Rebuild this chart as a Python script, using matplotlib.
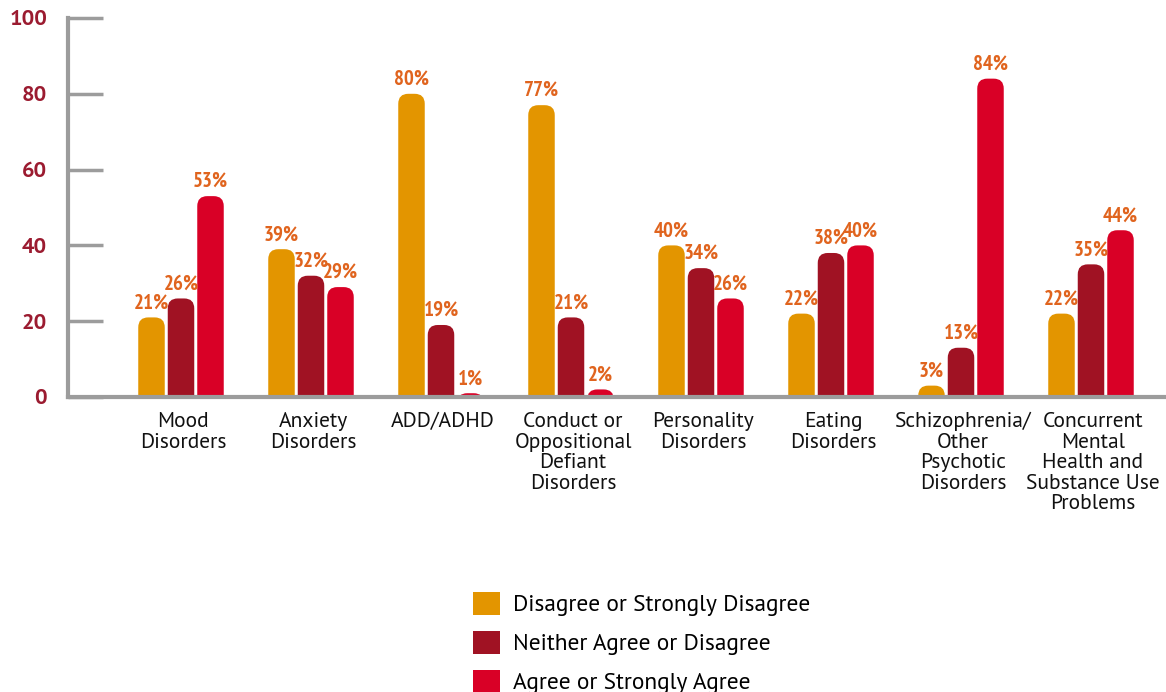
import matplotlib
matplotlib.use("Agg")
import matplotlib.pyplot as plt
from matplotlib.patches import FancyBboxPatch, Patch

categories = [
    "Mood\nDisorders",
    "Anxiety\nDisorders",
    "ADD/ADHD",
    "Conduct or\nOppositional\nDefiant\nDisorders",
    "Personality\nDisorders",
    "Eating\nDisorders",
    "Schizophrenia/\nOther\nPsychotic\nDisorders",
    "Concurrent\nMental\nHealth and\nSubstance Use\nProblems",
]
series_names = [
    "Disagree or Strongly Disagree",
    "Neither Agree or Disagree",
    "Agree or Strongly Agree",
]
disagree = [21, 39, 80, 77, 40, 22, 3, 22]
neither = [26, 32, 19, 21, 34, 38, 13, 35]
agree = [53, 29, 1, 2, 26, 40, 84, 44]
y_ticks = [0, 20, 40, 60, 80, 100]

colors = ["#E39500", "#A01223", "#D90026"]
label_color = "#E0641E"
tick_color = "#9B1B30"
axis_gray = "#9C9C9C"
body_font = ["PT Sans", "DejaVu Sans"]

W, H, DPI = 1166, 692, 100
fig = plt.figure(figsize=(W / DPI, H / DPI), dpi=DPI)

# axes box in pixels: left spine at x=68, value 100 at y=18, value 0 at y=397
ax_left, ax_top, ax_bottom = 68, 18, 397
ax = fig.add_axes([ax_left / W, (H - ax_bottom) / H, (W - ax_left) / W, (ax_bottom - ax_top) / H])

group_step = 130.0          # px between group centres
first_center = 181.0
ax.set_xlim((ax_left - first_center) / group_step, (W - first_center) / group_step)
ax.set_ylim(0, 100)

px_x = 1.0 / group_step                  # data units per pixel, x
px_y = 100.0 / (ax_bottom - ax_top)      # data units per pixel, y

bar_w = 26.5 * px_x
offset = 29.5 * px_x
radius_px = 10
r_x = radius_px * px_x
aspect = (radius_px * px_y) / r_x

for s, vals in enumerate([disagree, neither, agree]):
    for i, v in enumerate(vals):
        xc = i + (s - 1) * offset
        base = -30
        # rounded-top bar; the bottom corners sit below the axis and get clipped
        box = FancyBboxPatch((xc - bar_w / 2, base), bar_w, v - base,
                             boxstyle=f"round,pad=0,rounding_size={r_x}",
                             mutation_aspect=aspect,
                             facecolor=colors[s], edgecolor="none", zorder=2)
        ax.add_patch(box)
        ax.text(xc, v + 5 * px_y, f"{v}%", ha="center", va="bottom",
                color=label_color, fontsize=15, fontweight="bold", zorder=3,
                family=["PT Sans Narrow", "DejaVu Sans"])

for i, name in enumerate(categories):
    ax.text(i + 2 * px_x, -4.0, name, ha="center", va="top", fontsize=15.5,
            family=body_font, color="#111111", linespacing=1.1,
            clip_on=False)

for side in ["top", "right"]:
    ax.spines[side].set_visible(False)
ax.spines["left"].set_color(axis_gray)
ax.spines["left"].set_linewidth(3)
ax.spines["bottom"].set_color(axis_gray)
ax.spines["bottom"].set_linewidth(3)
ax.spines["bottom"].set_zorder(4)

ax.set_xticks([])
ax.set_yticks(y_ticks)
ax.tick_params(axis="y", direction="in", length=25, width=2.5, color=axis_gray, pad=15)
ax.set_yticklabels([str(t) for t in y_ticks], fontsize=16, fontweight="bold",
                   color=tick_color, family=body_font)
ax.patch.set_visible(False)

handles = [Patch(facecolor=c, edgecolor="none") for c in colors]
fig.legend(handles, series_names, loc="upper left",
           bbox_to_anchor=(452 / W, (H - 571) / H), frameon=False,
           handlelength=1.15, handleheight=1.15,
           labelspacing=0.62, handletextpad=0.55,
           prop={"family": body_font, "size": 16.8})

fig.savefig("out.png", dpi=DPI)
